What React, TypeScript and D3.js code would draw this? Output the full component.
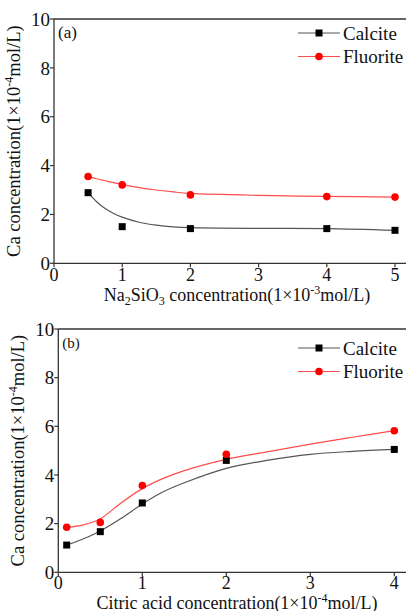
import React from "react";
import * as d3 from "d3";

// Panel (a): Na2SiO3 concentration
const aX = [0.5, 1, 2, 4, 5];
const aCalcite = [2.89, 1.5, 1.42, 1.42, 1.35];
const aFluorite = [3.55, 3.21, 2.8, 2.73, 2.71];
const aFitX = [0.5, 0.625, 0.75, 0.875, 1, 1.25, 1.5, 1.75, 2, 3, 4, 5];
const aCalciteFit = [2.89, 2.52, 2.24, 2.04, 1.89, 1.68, 1.56, 1.49, 1.46, 1.43, 1.42, 1.35];
const aFluoriteFit = [3.55, 3.46, 3.38, 3.3, 3.23, 3.1, 3.0, 2.92, 2.86, 2.78, 2.74, 2.71];
const aXTicks = [0, 1, 2, 3, 4, 5];

// Panel (b): Citric acid concentration
const bX = [0.1, 0.5, 1, 2, 4];
const bCalcite = [1.12, 1.67, 2.85, 4.6, 5.05];
const bFluorite = [1.85, 2.05, 3.57, 4.85, 5.82];
const bFitX = [0.1, 0.3, 0.5, 0.75, 1, 1.25, 1.5, 2, 2.5, 3, 3.5, 4];
const bCalciteFit = [1.12, 1.38, 1.7, 2.22, 2.81, 3.31, 3.68, 4.27, 4.61, 4.85, 4.97, 5.05];
const bFluoriteFit = [1.85, 1.95, 2.2, 2.86, 3.44, 3.86, 4.18, 4.64, 4.96, 5.27, 5.55, 5.82];
const bXTicks = [0, 1, 2, 3, 4];

const yTicks = [0, 2, 4, 6, 8, 10];
const seriesNames = ["Calcite", "Fluorite"];

const FONT = "'Liberation Serif', 'Times New Roman', serif";
const AXIS = "#333";

type PanelProps = {
  label: string;
  xDomain: [number, number];
  xRange: [number, number];
  yRange: [number, number];
  xTicks: number[];
  xs: number[];
  calcite: number[];
  fluorite: number[];
  fitX: number[];
  calciteFit: number[];
  fluoriteFit: number[];
  xLabel: React.ReactNode;
  xLabelY: number;
  xTickOffset: number;
  yLabelX: number;
  legendY: number;
};

function Panel(p: PanelProps) {
  const x = d3.scaleLinear().domain(p.xDomain).range(p.xRange);
  const y = d3.scaleLinear().domain([0, 10]).range(p.yRange);
  const line = d3
    .line<[number, number]>()
    .x((d) => x(d[0]))
    .y((d) => y(d[1]))
    .curve(d3.curveCatmullRom.alpha(0.5));
  const cFit = line(p.fitX.map((v, i) => [v, p.calciteFit[i]]) as [number, number][]) || "";
  const fFit = line(p.fitX.map((v, i) => [v, p.fluoriteFit[i]]) as [number, number][]) || "";
  const x0 = p.xRange[0];
  const yTop = p.yRange[1];
  const yBot = p.yRange[0];
  const yMid = (yTop + yBot) / 2;
  const xMid = 237;
  const legX1 = 298;
  const legX2 = 340;
  return (
    <g fontFamily={FONT}>
      {/* frame */}
      <line x1={x0} x2={410} y1={yTop} y2={yTop} stroke={AXIS} strokeWidth={1.3} />
      <line x1={x0} x2={410} y1={yBot} y2={yBot} stroke={AXIS} strokeWidth={1.3} />
      <line x1={x0} x2={x0} y1={yTop} y2={yBot} stroke={AXIS} strokeWidth={1.3} />
      {/* y ticks */}
      {yTicks.map((t) => (
        <g key={"y" + t}>
          <line x1={x0 - 4} x2={x0} y1={y(t)} y2={y(t)} stroke={AXIS} strokeWidth={1.2} />
          <text x={x0 - 4} y={y(t)} dy="0.35em" textAnchor="end" fontSize={19} fill="#111">
            {t}
          </text>
        </g>
      ))}
      {/* x ticks */}
      {p.xTicks.map((t) => (
        <g key={"x" + t}>
          <line x1={x(t)} x2={x(t)} y1={yBot} y2={yBot + 4} stroke={AXIS} strokeWidth={1.2} />
          <text x={x(t)} y={yBot + p.xTickOffset} textAnchor="middle" fontSize={18} fill="#111">
            {t}
          </text>
        </g>
      ))}
      {/* y label */}
      <text
        transform={`translate(${p.yLabelX},${yMid}) rotate(-90)`}
        textAnchor="middle"
        fontSize={18.5}
        fill="#111"
      >
        Ca concentration(1×10
        <tspan fontSize={12} dy={-7}>-4</tspan>
        <tspan dy={7}>mol/L)</tspan>
      </text>
      {/* x label */}
      <text x={xMid} y={p.xLabelY} textAnchor="middle" fontSize={18} fill="#111">
        {p.xLabel}
      </text>
      {/* panel label */}
      <text x={x0 + 4} y={yTop + 19} fontSize={p.label === "(a)" ? 17 : 15} fill="#111">
        {p.label}
      </text>
      {/* fit curves */}
      <path d={cFit} fill="none" stroke="#555" strokeWidth={1.2} />
      <path d={fFit} fill="none" stroke="#ff4d4d" strokeWidth={1.2} />
      {/* markers */}
      {p.xs.map((v, i) => (
        <rect
          key={"c" + i}
          x={x(v) - 3.5}
          y={y(p.calcite[i]) - 3.5}
          width={7}
          height={7}
          fill="#000"
        />
      ))}
      {p.xs.map((v, i) => (
        <circle key={"f" + i} cx={x(v)} cy={y(p.fluorite[i])} r={3.8} fill="#ff0000" />
      ))}
      {/* legend */}
      {seriesNames.map((n, i) => {
        const ly = p.legendY + i * 23.5;
        const col = i === 0 ? "#555" : "#ff4d4d";
        return (
          <g key={n}>
            <line x1={legX1} x2={legX2} y1={ly} y2={ly} stroke={col} strokeWidth={1.2} />
            {i === 0 ? (
              <rect x={(legX1 + legX2) / 2 - 3.5} y={ly - 3.5} width={7} height={7} fill="#000" />
            ) : (
              <circle cx={(legX1 + legX2) / 2} cy={ly} r={3.8} fill="#ff0000" />
            )}
            <text x={legX2 + 3} y={ly} dy="0.35em" fontSize={19} fill="#111">
              {n}
            </text>
          </g>
        );
      })}
    </g>
  );
}

export default function App() {
  return (
    <svg
      width={406}
      height={611}
      style={{ position: "absolute", left: 0, top: 0, background: "#fff" }}
    >
      <rect width={406} height={611} fill="#fff" />
      <Panel
        label="(a)"
        xDomain={[0, 5]}
        xRange={[54, 395]}
        yRange={[263.3, 19]}
        xTicks={aXTicks}
        xs={aX}
        calcite={aCalcite}
        fluorite={aFluorite}
        fitX={aFitX}
        calciteFit={aCalciteFit}
        fluoriteFit={aFluoriteFit}
        xLabel={
          <>
            Na<tspan fontSize={12} dy={4}>2</tspan>
            <tspan dy={-4}>SiO</tspan>
            <tspan fontSize={12} dy={4}>3</tspan>
            <tspan dy={-4}> concentration(1×10</tspan>
            <tspan fontSize={12} dy={-7}>-3</tspan>
            <tspan dy={7}>mol/L)</tspan>
          </>
        }
        xLabelY={301}
        xTickOffset={18}
        yLabelX={20}
        legendY={33}
      />
      <Panel
        label="(b)"
        xDomain={[0, 4]}
        xRange={[58.3, 394.3]}
        yRange={[572.3, 329]}
        xTicks={bXTicks}
        xs={bX}
        calcite={bCalcite}
        fluorite={bFluorite}
        fitX={bFitX}
        calciteFit={bCalciteFit}
        fluoriteFit={bFluoriteFit}
        xLabel={
          <>
            Citric acid concentration(1×10
            <tspan fontSize={12} dy={-7}>-4</tspan>
            <tspan dy={7}>mol/L)</tspan>
          </>
        }
        xLabelY={608.5}
        xTickOffset={16.5}
        yLabelX={24}
        legendY={348}
      />
    </svg>
  );
}
